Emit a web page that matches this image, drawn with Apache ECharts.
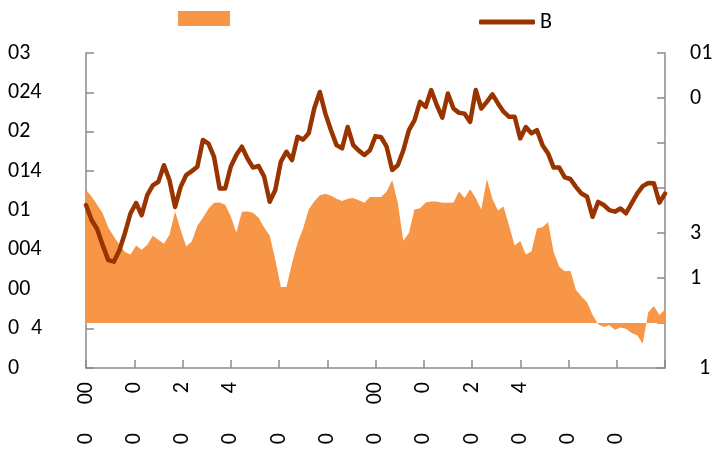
<!DOCTYPE html>
<html><head><meta charset="utf-8">
<script src="https://cdn.jsdelivr.net/npm/echarts@6/dist/echarts.min.js"></script>
<style>html,body{margin:0;padding:0;background:#fff}#c{width:717px;height:457px}</style>
</head><body><div id="c"></div>
<script>
// ---- data ----
const periodCount = 105;
const periods = Array.from({length: periodCount}, (_, i) => 'P' + (i + 1));

// tick-label rows of the x axis (13 tick positions, last one at the right edge)
const xRow1Labels = ["00","0","2","4","","","00","0","2","4","","",""];
const xRow2Labels = ["0","0","0","0","0","0","0","0","0","0","0","0",""];

// left axis labels, bottom to top (values 0..8)
const leftLabels = ["0","0\u20074","00","004","01","014","02","024","03"];
// right axis labels, bottom to top (values -1..6)
const rightLabels = ["1","","1","3","","","0","01"];

const seriesAName = "A";
const seriesBName = "B";

// area series (right axis)
const areaValues = [2.96,2.81,2.63,2.44,2.12,1.92,1.74,1.58,1.52,1.72,
 1.63,1.74,1.94,1.85,1.76,1.96,2.48,2.07,1.70,1.81,
 2.16,2.34,2.54,2.67,2.68,2.63,2.37,2.01,2.47,2.48,
 2.45,2.34,2.12,1.94,1.41,0.80,0.80,1.33,1.78,2.10,
 2.52,2.70,2.84,2.87,2.83,2.76,2.71,2.76,2.78,2.73,
 2.67,2.80,2.80,2.80,2.92,3.18,2.67,1.83,2.00,2.52,
 2.55,2.68,2.70,2.70,2.67,2.67,2.68,2.92,2.78,2.97,
 2.78,2.52,3.20,2.76,2.50,2.59,2.16,1.72,1.82,1.52,
 1.59,2.10,2.13,2.24,1.58,1.25,1.15,1.16,0.74,0.59,
 0.46,0.18,-0.03,-0.09,-0.05,-0.15,-0.10,-0.13,-0.22,-0.27,
 -0.46,0.24,0.38,0.18,0.30];

// line series (left axis)
const lineValues = [4.14,3.76,3.53,3.12,2.74,2.70,2.99,3.43,3.93,4.19,
 3.88,4.39,4.64,4.73,5.15,4.77,4.09,4.60,4.90,5.00,
 5.11,5.79,5.70,5.36,4.56,4.56,5.11,5.41,5.62,5.32,
 5.09,5.13,4.86,4.22,4.52,5.24,5.49,5.28,5.87,5.80,
 5.96,6.59,7.01,6.46,6.04,5.66,5.58,6.12,5.66,5.52,
 5.41,5.53,5.89,5.86,5.62,5.03,5.15,5.53,6.04,6.29,
 6.76,6.63,7.06,6.68,6.36,6.97,6.59,6.48,6.46,6.25,
 7.06,6.59,6.76,6.95,6.72,6.51,6.38,6.38,5.83,6.12,
 5.96,6.04,5.66,5.45,5.09,5.09,4.84,4.80,4.60,4.43,
 4.35,3.84,4.22,4.14,4.01,3.97,4.05,3.93,4.18,4.43,
 4.62,4.70,4.69,4.20,4.43];

// ---- chart ----
const FONT = 'Carlito, Lato, sans-serif';
const FS = 22;
const AX = '#8a8a8a';
const yearCats = xRow1Labels.map((_, i) => 'Y' + i);

const chart = echarts.init(document.getElementById('c'), null, {renderer: 'canvas'});
chart.setOption({
  animation: false,
  backgroundColor: '#fff',
  textStyle: {fontFamily: FONT, color: '#000'},
  grid: {left: 86, right: 52, top: 53, bottom: 89, containLabel: false},
  legend: [
    {data: [seriesAName], left: 173, top: 6, icon: 'rect', itemWidth: 52, itemHeight: 15,
     formatter: () => '', textStyle: {fontFamily: FONT, fontSize: FS, color: '#000'}},
    {data: [seriesBName], left: 474, top: 6, icon: 'roundRect', itemWidth: 56, itemHeight: 5,
     textStyle: {fontFamily: FONT, fontSize: FS, color: '#000'}}
  ],
  xAxis: [
    {type: 'category', data: periods, boundaryGap: false, position: 'bottom',
     axisLine: {show: true, onZero: false, lineStyle: {color: AX, width: 1.5}},
     axisTick: {show: false}, axisLabel: {show: false}, splitLine: {show: false}},
    {type: 'category', data: yearCats, boundaryGap: false, position: 'bottom',
     axisLine: {show: false, onZero: false},
     axisTick: {show: true, inside: true, length: 8, interval: 0, lineStyle: {color: AX, width: 1.5}},
     axisLabel: {show: true, interval: 0, rotate: 90, margin: 14, fontFamily: FONT, fontSize: FS, color: '#000',
       formatter: (v, i) => xRow1Labels[i]},
     splitLine: {show: false}},
    {type: 'category', data: yearCats, boundaryGap: false, position: 'bottom',
     axisLine: {show: false, onZero: false}, axisTick: {show: false},
     axisLabel: {show: true, interval: 0, rotate: 90, margin: 65, fontFamily: FONT, fontSize: FS, color: '#000',
       formatter: (v, i) => xRow2Labels[i]},
     splitLine: {show: false}}
  ],
  yAxis: [
    {type: 'value', min: 0, max: 8, interval: 1, position: 'left',
     axisLine: {show: true, onZero: false, lineStyle: {color: AX, width: 1.5}},
     axisTick: {show: true, inside: true, length: 8, lineStyle: {color: AX, width: 1.5}},
     splitLine: {show: false},
     axisLabel: {align: 'left', margin: 78, fontFamily: FONT, fontSize: FS, color: '#000',
       formatter: v => leftLabels[Math.round(v)]}},
    {type: 'value', min: -1, max: 6, interval: 1, position: 'right',
     axisLine: {show: true, onZero: false, lineStyle: {color: AX, width: 1.5}},
     axisTick: {show: true, inside: true, length: 8, lineStyle: {color: AX, width: 1.5}},
     splitLine: {show: false},
     axisLabel: {align: 'left', margin: 25, fontFamily: FONT, fontSize: FS, color: '#000',
       formatter: v => { const k = Math.round(v) + 1; const t = rightLabels[k]; return k === 0 ? '{o|' + t + '}' : t; },
       rich: {o: {padding: [0, 0, 0, 9], fontFamily: FONT, fontSize: FS, color: '#000'}}}}
  ],
  series: [
    {name: seriesAName, type: 'line', xAxisIndex: 0, yAxisIndex: 1, data: areaValues,
     showSymbol: false, symbol: 'none', lineStyle: {width: 0}, itemStyle: {color: '#F79646'},
     areaStyle: {color: '#F79646', opacity: 1}, z: 1},
    {name: seriesBName, type: 'line', xAxisIndex: 0, yAxisIndex: 0, data: lineValues,
     showSymbol: false, symbol: 'none', itemStyle: {color: '#993300'},
     lineStyle: {color: '#993300', width: 4.5, join: 'round', cap: 'round'}, z: 3}
  ]
});
</script>
</body></html>
